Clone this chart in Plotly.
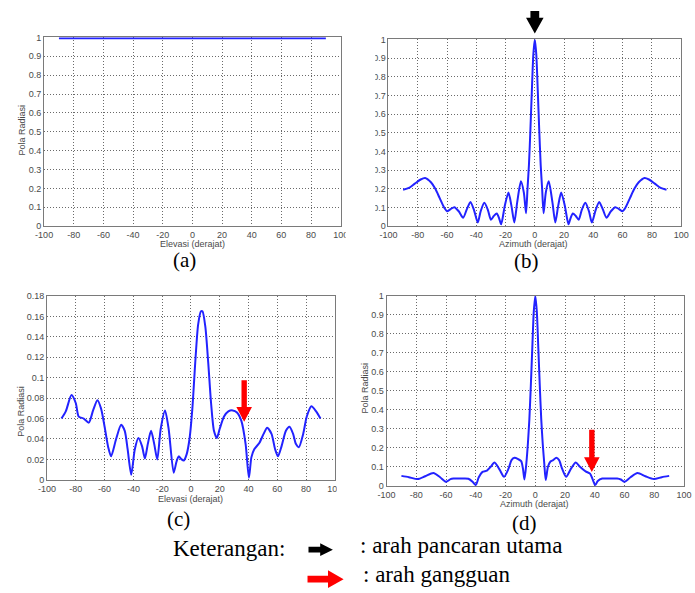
import plotly.graph_objects as go

FIG_W, FIG_H = 695, 593

# ---------------------------------------------------------------------------
# Data
# ---------------------------------------------------------------------------
# (a) elevation pattern of a single element
elev_a = [-90, -60, -30, 0, 30, 60, 90]
pola_a = [1, 1, 1, 1, 1, 1, 1]

# (b) azimuth pattern, main beam at 0 deg
azim_b = [-90, -86, -82, -78, -75, -71, -68, -65, -62, -60, -57.5, -55, -52, -49,
          -46.5, -44, -41.5, -39, -37, -34.5, -32, -30, -28, -26, -24.5, -23,
          -20.5, -18, -16, -14, -12, -9.5, -7.5, -6, -5, -4, -3, -2, -1, 0,
          1, 2, 3, 4, 5, 6, 7.5, 9.5, 12, 14, 16, 18, 20.5, 23, 24.5, 26, 28,
          30, 32, 34.5, 37, 39, 41.5, 44, 46.5, 49, 52, 55, 57.5, 60, 62, 65,
          68, 71, 75, 78, 82, 86, 90]
pola_b = [0.195, 0.205, 0.228, 0.25, 0.258, 0.235, 0.2, 0.15, 0.1, 0.08, 0.092,
          0.102, 0.08, 0.045, 0.09, 0.13, 0.085, 0.02, 0.08, 0.125, 0.085, 0.035,
          0.055, 0.068, 0.045, 0.01, 0.11, 0.18, 0.11, 0.02, 0.13, 0.24, 0.18,
          0.07, 0.2, 0.33, 0.52, 0.73, 0.92, 1.0,
          0.92, 0.73, 0.52, 0.33, 0.2, 0.07, 0.18, 0.24, 0.13, 0.02, 0.11, 0.18,
          0.11, 0.01, 0.045, 0.068, 0.055, 0.035, 0.085, 0.125, 0.08, 0.02, 0.085,
          0.13, 0.09, 0.045, 0.08, 0.102, 0.092, 0.08, 0.1, 0.15, 0.2, 0.235,
          0.258, 0.25, 0.228, 0.205, 0.195]

# (c) elevation pattern with interference
elev_c = [-90, -87, -83, -80, -78, -74.5, -71, -68, -65, -62.5, -60, -57.5, -55.5,
          -52, -48.5, -46, -44, -41.5, -39, -36.5, -34, -32, -30, -27.7, -25.5,
          -23.4, -21, -18, -15.5, -12, -10, -8.5, -6.5, -5, -3, -1, 1, 3, 5, 7, 8,
          10, 12, 14, 16, 18, 20, 23, 26, 29, 32, 35, 38, 40.3, 42, 44, 47.5,
          50.5, 53, 56, 58.5, 60.5, 63, 66, 68.5, 71, 73, 75, 78, 80.5, 83.7, 87, 90]
pola_c = [0.060, 0.067, 0.083, 0.075, 0.062, 0.060, 0.056, 0.068, 0.078, 0.07, 0.052,
          0.032, 0.023, 0.04, 0.054, 0.048, 0.03, 0.005, 0.03, 0.041, 0.033, 0.021,
          0.035, 0.048, 0.035, 0.02, 0.05, 0.068, 0.05, 0.007, 0.018, 0.023, 0.02,
          0.019, 0.025, 0.04, 0.07, 0.115, 0.152, 0.165, 0.165, 0.15, 0.115, 0.075,
          0.048, 0.041, 0.05, 0.062, 0.067, 0.068, 0.066, 0.058, 0.035, 0.002, 0.022,
          0.03, 0.036, 0.045, 0.051, 0.045, 0.03, 0.023, 0.033, 0.048, 0.052, 0.045,
          0.035, 0.032, 0.045, 0.062, 0.072, 0.067, 0.060]

# (d) azimuth pattern with a null towards the interference
azim_d = [-90, -85, -79, -74, -68.5, -64, -60, -57, -55, -50, -45, -42, -40, -38,
          -35.5, -32.5, -30, -27.4, -24, -21, -18, -16, -14, -11.5, -9.5, -8.3,
          -7.3, -6, -5, -4, -3, -2, -1, 0, 1, 2, 3, 4, 5, 6, 7, 8.5, 10.2, 12,
          14.1, 16, 18, 20.7, 24, 27.2, 30, 33.8, 36.8, 38.5, 40.3, 42, 45, 50,
          55, 57.5, 60, 64, 68.7, 74, 79.7, 85, 90]
pola_d = [0.052, 0.045, 0.035, 0.05, 0.067, 0.045, 0.021, 0.035, 0.038, 0.038, 0.037,
          0.02, 0.003, 0.045, 0.073, 0.08, 0.1, 0.123, 0.085, 0.047, 0.09, 0.135,
          0.147, 0.14, 0.13, 0.09, 0.033, 0.12, 0.22, 0.35, 0.53, 0.73, 0.92, 1.0,
          0.92, 0.73, 0.53, 0.35, 0.22, 0.12, 0.03, 0.1, 0.128, 0.135, 0.147, 0.135,
          0.09, 0.047, 0.09, 0.123, 0.1, 0.076, 0.064, 0.035, 0.003, 0.025, 0.038,
          0.038, 0.038, 0.033, 0.021, 0.045, 0.067, 0.05, 0.035, 0.045, 0.052]

# Tick values / labels
x_tickvals = [-100, -80, -60, -40, -20, 0, 20, 40, 60, 80, 100]
x_ticktext = ["-100", "-80", "-60", "-40", "-20", "0", "20", "40", "60", "80", "100"]
y_tickvals_unit = [0, 0.1, 0.2, 0.3, 0.4, 0.5, 0.6, 0.7, 0.8, 0.9, 1]
y_ticktext_unit = ["0", "0.1", "0.2", "0.3", "0.4", "0.5", "0.6", "0.7", "0.8", "0.9", "1"]
y_tickvals_small = [0, 0.02, 0.04, 0.06, 0.08, 0.1, 0.12, 0.14, 0.16, 0.18]
y_ticktext_small = ["0", "0.02", "0.04", "0.06", "0.08", "0.1", "0.12", "0.14", "0.16", "0.18"]

# Arrow targets (direction in degrees, pattern level at arrow tip)
main_beam_dir = 0
interf_dir_c, interf_tip_c = 37, 0.057
interf_dir_d, interf_tip_d = 38, 0.072

# ---------------------------------------------------------------------------
# Layout helpers (pixel -> paper)
# ---------------------------------------------------------------------------
def paper_x(px):
    return px / FIG_W


def paper_y(py):
    return 1 - py / FIG_H


# Plot-area boxes in pixels: left, right, top, bottom
panels = [
    dict(box=(36, 340, 33, 225), yr=(0, 1), yv=y_tickvals_unit, yt=y_ticktext_unit,
         x=elev_a, y=pola_a, w=3.5, shape="linear"),
    dict(box=(389, 689, 35, 225), yr=(0, 1), yv=y_tickvals_unit, yt=y_ticktext_unit,
         x=azim_b, y=pola_b, w=2, shape="spline"),
    dict(box=(39, 334, 296, 483), yr=(0, 0.18), yv=y_tickvals_small, yt=y_ticktext_small,
         x=elev_c, y=pola_c, w=2, shape="spline"),
    dict(box=(387, 692, 296, 489), yr=(0, 1), yv=y_tickvals_unit, yt=y_ticktext_unit,
         x=azim_d, y=pola_d, w=2, shape="spline"),
]


def data_to_px(panel, xv, yv):
    l, r, t, b = panel["box"]
    y0, y1 = panel["yr"]
    return (l + (xv + 100) / 200 * (r - l), b - (yv - y0) / (y1 - y0) * (b - t))


LINE_BLUE = "#2222ff"
AXIS_GREY = "#7a7a7a"
GRID_GREY = "#6a6a6a"
TICK_FONT = dict(family="Liberation Sans, Arial, sans-serif", size=9, color="#4a4a4a")

fig = go.Figure()
layout = dict(
    width=FIG_W, height=FIG_H,
    margin=dict(l=0, r=0, t=0, b=0),
    paper_bgcolor="white", plot_bgcolor="white",
    showlegend=False,
)

for i, p in enumerate(panels):
    n = "" if i == 0 else str(i + 1)
    l, r, t, b = p["box"]
    fig.add_trace(go.Scatter(
        x=p["x"], y=p["y"], mode="lines",
        line=dict(color=LINE_BLUE, width=p["w"], shape=p["shape"], smoothing=0.7),
        xaxis="x" + n, yaxis="y" + n, hoverinfo="skip",
    ))
    common = dict(
        showline=True, mirror=True, linecolor=AXIS_GREY, linewidth=1,
        showgrid=True, gridcolor=GRID_GREY, gridwidth=1, griddash="1px,2px",
        zeroline=False, ticks="", tickfont=TICK_FONT, fixedrange=True,
    )
    layout["xaxis" + n] = dict(
        common, domain=[paper_x(l), paper_x(r)], range=[-100, 100],
        tickvals=x_tickvals, ticktext=x_ticktext, anchor="y" + n,
    )
    layout["yaxis" + n] = dict(
        common, domain=[paper_y(b), paper_y(t)], range=list(p["yr"]),
        tickvals=p["yv"], ticktext=p["yt"], anchor="x" + n,
    )

annotations = []


def label(text, px, py, size, family, color="#000", angle=0, xanchor="center"):
    annotations.append(dict(
        text=text, x=paper_x(px), y=paper_y(py), xref="paper", yref="paper",
        showarrow=False, xanchor=xanchor, yanchor="middle", textangle=angle,
        font=dict(family=family, size=size, color=color),
    ))


SANS = "Liberation Sans, Arial, sans-serif"
SERIF = "Liberation Serif, Times New Roman, serif"

# axis titles
label("Elevasi (derajat)", 188, 243, 9, SANS, "#4a4a4a")
label("Azimuth (derajat)", 538, 243, 9, SANS, "#4a4a4a")
label("Elevasi (derajat)", 186, 502, 9, SANS, "#4a4a4a")
label("Azimuth (derajat)", 539, 508, 9, SANS, "#4a4a4a")
label("Pola Radiasi", 13, 127, 9, SANS, "#4a4a4a", angle=-90)
label("Pola Radiasi", 12, 413, 9, SANS, "#4a4a4a", angle=-90)
label("Pola Radiasi", 365, 390, 9, SANS, "#4a4a4a", angle=-90)

# panel captions
label("(a)", 180, 259, 21, SERIF)
label("(b)", 530, 260, 21, SERIF)
label("(c)", 174, 523, 21, SERIF)
label("(d)", 528, 527, 21, SERIF)

# key
label("Keterangan:", 166, 553, 23, SERIF, xanchor="left")
label(": arah pancaran utama", 358, 550, 23, SERIF, xanchor="left")
label(": arah gangguan", 361, 579, 23, SERIF, xanchor="left")

layout["annotations"] = annotations

# ---------------------------------------------------------------------------
# Block arrows
# ---------------------------------------------------------------------------
shapes = []


def poly(points, color):
    d = "M " + " L ".join(f"{paper_x(x):.5f},{paper_y(y):.5f}" for x, y in points) + " Z"
    shapes.append(dict(type="path", path=d, xref="paper", yref="paper",
                       fillcolor=color, line=dict(width=0), layer="above"))


def arrow_down(tip_x, tip_y, length, shaft_w, head_w, head_h, color):
    top = tip_y - length
    neck = tip_y - head_h
    poly([(tip_x - shaft_w / 2, top), (tip_x + shaft_w / 2, top),
          (tip_x + shaft_w / 2, neck), (tip_x + head_w / 2, neck),
          (tip_x, tip_y), (tip_x - head_w / 2, neck),
          (tip_x - shaft_w / 2, neck)], color)


def arrow_right(tail_x, tip_x, cy, shaft_h, head_l, head_h, color):
    neck = tip_x - head_l
    poly([(tail_x, cy - shaft_h / 2), (neck, cy - shaft_h / 2),
          (neck, cy - head_h / 2), (tip_x, cy), (neck, cy + head_h / 2),
          (neck, cy + shaft_h / 2), (tail_x, cy + shaft_h / 2)], color)


# white strips where the figure edges were trimmed
shapes.append(dict(type="rect", xref="paper", yref="paper",
                   x0=paper_x(345), x1=paper_x(375.5), y0=paper_y(240), y1=paper_y(25),
                   fillcolor="white", line=dict(width=0), layer="above"))
shapes.append(dict(type="rect", xref="paper", yref="paper",
                   x0=paper_x(336), x1=paper_x(352), y0=paper_y(498), y1=paper_y(484),
                   fillcolor="white", line=dict(width=0), layer="above"))

# main beam direction above panel (b)
bx, by = data_to_px(panels[1], main_beam_dir, 1.0)
arrow_down(bx, by - 6, 23, 9, 18, 16, "#000000")

# interference direction in (c) and (d)
cx, cy = data_to_px(panels[2], interf_dir_c, interf_tip_c)
arrow_down(cx, cy, 42, 5.5, 16, 15, "#ff0000")
dx, dy = data_to_px(panels[3], interf_dir_d, interf_tip_d)
arrow_down(dx, dy, 43, 5.5, 16, 15, "#ff0000")

# key arrows
arrow_right(307, 332, 554, 6, 13, 13, "#000000")
arrow_right(306, 343, 584, 7, 16, 18, "#ff0000")

layout["shapes"] = shapes
fig.update_layout(**layout)
fig.write_html("out.html")
